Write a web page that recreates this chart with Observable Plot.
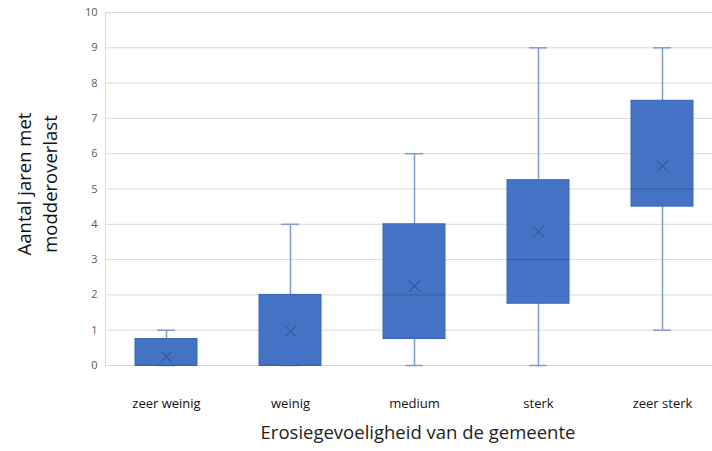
<!DOCTYPE html>
<html>
<head>
<meta charset="utf-8">
<script src="https://cdn.jsdelivr.net/npm/d3@7"></script>
<script src="https://cdn.jsdelivr.net/npm/@observablehq/plot@0.6"></script>
<style>
  html, body { margin: 0; padding: 0; background: #fff; }
  #chart svg { display: block; }
</style>
</head>
<body>
<div id="chart"></div>
<script>
const categories = ["zeer weinig", "weinig", "medium", "sterk", "zeer sterk"];
const minValues    = [0, 0, 0, 0, 1];
const q1Values     = [0, 0, 0.75, 1.75, 4.5];
const medianValues = [0, 0, 2, 3, 5];
const q3Values     = [0.75, 2, 4, 5.25, 7.5];
const maxValues    = [1, 4, 6, 9, 9];
const meanValues   = [0.25, 0.97, 2.25, 3.8, 5.65];
const yTicks = [0, 1, 2, 3, 4, 5, 6, 7, 8, 9, 10];
const yTitle = "Aantal jaren met\nmodderoverlast";
const xTitle = "Erosiegevoeligheid van de gemeente";

const rows = categories.map((c, i) => ({
  cat: c, min: minValues[i], q1: q1Values[i], median: medianValues[i],
  q3: q3Values[i], max: maxValues[i], mean: meanValues[i]
}));

const font = "'Open Sans', sans-serif";
const W = 712, H = 451;

const chart = Plot.plot({
  width: W,
  height: H,
  marginLeft: 105,
  marginRight: 0,
  marginTop: 12,
  marginBottom: 86,
  style: { fontFamily: font, background: "#fff" },
  x: { domain: categories, range: [104, 724], paddingInner: 0.5, paddingOuter: 0.25, align: 0.5 },
  y: { domain: [0, 10] },
  marks: [
    Plot.ruleY(yTicks, { stroke: "#d9d9d9", strokeWidth: 1 }),
    Plot.frame({ anchor: "left", stroke: "#d9d9d9" }),
    Plot.axisY({ ticks: yTicks, tickSize: 0, tickPadding: 8, fontSize: 11, color: "#595959", label: null }),
    Plot.axisX({ tickSize: 0, tickPadding: 33, fontSize: 13, color: "#111", label: null }),
    // whiskers
    Plot.ruleX(rows, { x: "cat", y1: "min", y2: "q1", stroke: "#7e9bcb", strokeWidth: 1.5 }),
    Plot.ruleX(rows, { x: "cat", y1: "q3", y2: "max", stroke: "#7e9bcb", strokeWidth: 1.5 }),
    Plot.tickY(rows, { x: "cat", y: "min", stroke: "#7e9bcb", strokeWidth: 1.5, insetLeft: 22, insetRight: 22 }),
    Plot.tickY(rows, { x: "cat", y: "max", stroke: "#7e9bcb", strokeWidth: 1.5, insetLeft: 22, insetRight: 22 }),
    // boxes
    Plot.barY(rows, { x: "cat", y1: "q1", y2: "q3", fill: "#4472c4", stroke: "#3a66b6", strokeWidth: 1 }),
    Plot.tickY(rows, { x: "cat", y: "median", stroke: "#2f5597", strokeWidth: 1, strokeOpacity: 0.8 }),
    Plot.dot(rows, { x: "cat", y: "mean", symbol: "times", r: 5, stroke: "#3559a0", strokeWidth: 1.1 }),
    // titles
    Plot.text([yTitle], { frameAnchor: "left", textAnchor: "middle", dx: -70, dy: -5, rotate: -90, fontSize: 18.5, fill: "#111", lineHeight: 1.4, lineAnchor: "middle" }),
    Plot.text([xTitle], { frameAnchor: "bottom", dx: 9, dy: 73, fontSize: 18.5, fill: "#222" })
  ]
});

document.getElementById("chart").appendChild(chart);
</script>
</body>
</html>
